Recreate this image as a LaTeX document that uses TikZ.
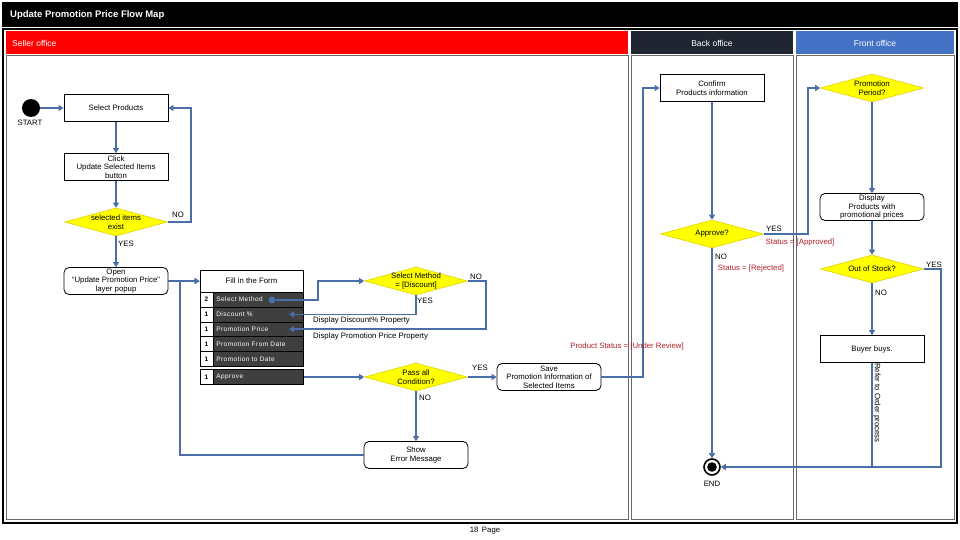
\documentclass[tikz,border=0pt]{standalone}
\usepackage{fontspec}
\setmainfont{Liberation Sans}
\newfontfamily\rowfont[LetterSpace=7]{Liberation Sans}
\usetikzlibrary{shapes.geometric,arrows.meta}
\definecolor{flowblue}{HTML}{4A6FA8}
\definecolor{laneline}{HTML}{6A6A6A}
\definecolor{hdrred}{HTML}{FF0000}
\definecolor{hdrdark}{HTML}{1F2631}
\definecolor{hdrblue}{HTML}{4472C4}
\definecolor{statred}{HTML}{B3202A}
\definecolor{rowdark}{HTML}{3F3F3F}
\definecolor{decfill}{HTML}{FFFF00}
\definecolor{decline}{HTML}{E0D000}
\tikzset{
  box/.style={draw=black, line width=0.8pt, minimum width=104pt, minimum height=27pt, align=center, inner sep=1pt, font=\fontsize{7.8}{8.6}\selectfont},
  rbox/.style={box, rounded corners=5pt},
  dec/.style={diamond, draw=decline, fill=decfill, line width=0.6pt, aspect=3.6, inner sep=-8pt, minimum width=103pt, minimum height=28pt, align=center, font=\fontsize{7.8}{8.6}\selectfont},
  flow/.style={draw=flowblue, line width=1.8pt, -{Triangle[length=5pt,width=6pt]}},
  plain/.style={draw=flowblue, line width=1.8pt},
  lbl/.style={inner sep=0pt, font=\fontsize{7.8}{8.6}\selectfont},
  stat/.style={lbl, text=statred},
  numcell/.style={draw=black, fill=white, line width=0.6pt, minimum width=13pt, minimum height=14.8pt, inner sep=0pt, font=\bfseries\fontsize{6.5}{7}\selectfont},
  rowcell/.style={draw=black, fill=rowdark, line width=0.6pt, text=white, anchor=west, text width=84pt, inner xsep=3pt, inner ysep=0pt, minimum height=14.8pt, align=left, font=\rowfont\fontsize{6.5}{7}\selectfont},
  hdr/.style={inner sep=0pt, text=white, font=\fontsize{8.5}{9}\selectfont},
}
\begin{document}
\begin{tikzpicture}[x=1pt,y=-1pt]
\useasboundingbox (0,0) rectangle (960,540);
\fill[white] (0,0) rectangle (960,540);
% title bar
\fill[black] (2,2) rectangle (958,27);
\node[hdr, anchor=west, font=\bfseries\fontsize{9.5}{10}\selectfont] (title) at (10,15) {Update Promotion Price Flow Map};
% frame
\draw[black, line width=1.2pt] (3,29) rectangle (957,523);
% headers
\fill[hdrred] (6,31) rectangle (628,54);
\fill[hdrdark] (631,31) rectangle (793,54);
\fill[hdrblue] (796,31) rectangle (954,54);
\node[hdr, anchor=west] (hseller) at (12,43) {Seller office};
\node[hdr] (hback) at (712,43) {Back office};
\node[hdr] (hfront) at (875,43) {Front office};
% lanes
\draw[laneline, line width=1pt] (6,56) rectangle (628,519);
\draw[laneline, line width=1pt] (631,56) rectangle (793,519);
\draw[laneline, line width=1pt] (796,56) rectangle (954,519);
\node[lbl] (page) at (485,531) {18\, Page};

% ---------- Seller office ----------
\node[circle, fill=black, minimum size=18pt, inner sep=0pt] (start) at (31,108) {};
\node[lbl] (startlbl) at (30,123) {START};
\node[box] (selprod) at (116,108) {Select Products};
\node[box] (click) at (116,167) {Click\\Update Selected Items\\button};
\node[dec] (exist) at (116,222) {selected items\\exist};
\node[rbox] (open) at (116,281) {Open\\``Update Promotion Price''\\layer popup};

\node[draw=black, fill=white, line width=0.8pt, minimum width=103pt, minimum height=22pt, inner sep=0pt, font=\fontsize{7.8}{8.6}\selectfont] (form) at (251.5,281) {Fill in the Form};
\node[numcell] (n1) at (206.5,299.6) {2};
\node[rowcell] (r1) at (213,299.6) {Select Method};
\node[numcell] (n2) at (206.5,314.4) {1};
\node[rowcell] (r2) at (213,314.4) {Discount \%};
\node[numcell] (n3) at (206.5,329.2) {1};
\node[rowcell] (r3) at (213,329.2) {Promotion Price};
\node[numcell] (n4) at (206.5,344) {1};
\node[rowcell] (r4) at (213,344) {Promotion From Date};
\node[numcell] (n5) at (206.5,358.8) {1};
\node[rowcell] (r5) at (213,358.8) {Promotion to Date};
\node[numcell] (n6) at (206.5,377) {1};
\node[rowcell] (r6) at (213,377) {Approve};
\node[circle, fill=flowblue, minimum size=7pt, inner sep=0pt] (dot) at (272,300) {};
\coordinate (dtgt) at (289,314.4);
\coordinate (ptgt) at (289,329.2);

\node[dec] (selm) at (416,281) {Select Method\\= [Discount]};
\node[dec] (pass) at (416,377) {Pass all\\Condition?};
\node[rbox] (save) at (549,377) {Save\\Promotion Information of\\Selected Items};
\node[rbox] (error) at (416,455) {Show\\Error Message};

% ---------- Back office ----------
\node[box] (confirm) at (712,88) {Confirm\\Products information};
\node[dec] (approve) at (712,234) {Approve?};
\node[circle, draw=black, fill=white, line width=1.6pt, minimum size=16pt, inner sep=0pt,
  path picture={\fill[black] (path picture bounding box.center) circle (4.8pt);}] (end) at (712,467) {};
\node[lbl] (endlbl) at (712,484) {END};

% ---------- Front office ----------
\node[dec] (period) at (872,88) {Promotion\\Period?};
\node[rbox] (display) at (872,207) {Display\\Products with\\promotional prices};
\node[dec] (oos) at (872,269) {Out of Stock?};
\node[box] (buyer) at (872,349) {Buyer buys.};

% ---------- connectors ----------
\draw[flow] (start) -- (selprod);
\draw[flow] (selprod) -- (click);
\draw[flow] (click) -- (exist);
\draw[flow] (exist.east) -- ++(23,0) |- (selprod.east);
\node[lbl] (noexist) at (178,215) {NO};
\draw[flow] (exist) -- (open);
\node[lbl] (yesexist) at (126,244) {YES};
\draw[flow] (open.east) -- (form.west);
\draw[flow] (error.west) -| (180,281) -- (form.west);

\draw[flow] (dot) -- (318,300) |- (selm.west);
\draw[flow] (selm.south) |- (dtgt);
\node[lbl] (yessel) at (425,301) {YES};
\node[lbl, anchor=west] (dispdisc) at (313,320) {Display Discount\% Property};
\draw[flow] (selm.east) -- ++(18,0) |- (ptgt);
\node[lbl] (nosel) at (476,277) {NO};
\node[lbl, anchor=west] (dispprice) at (313,336) {Display Promotion Price Property};

\draw[flow] (r6.east) -- (pass.west);
\draw[flow] (pass.east) -- (save.west);
\node[lbl] (yespass) at (480,368) {YES};
\draw[flow] (pass.south) -- (error.north);
\node[lbl] (nopass) at (425,398) {NO};

\draw[flow] (save.east) -- (643,377) |- (confirm.west);
\node[stat] (review) at (627,346) {Product Status = [Under Review]};

\draw[flow] (confirm.south) -- (approve.north);
\draw[flow] (approve.east) -- (808,234) |- (period.west);
\node[lbl] (yesapp) at (774,229) {YES};
\node[stat] (approved) at (800,242) {Status = [Approved]};
\draw[flow] (approve.south) -- (end.north);
\node[lbl] (noapp) at (721,257) {NO};
\node[stat] (rejected) at (751,268) {Status = [Rejected]};

\draw[flow] (period.south) -- (display.north);
\draw[flow] (display.south) -- (oos.north);
\draw[flow] (oos.east) -- (941,269) |- (end.east);
\node[lbl] (yesoos) at (934,265) {YES};
\draw[flow] (oos.south) -- (buyer.north);
\node[lbl] (nooos) at (881,293) {NO};
\draw[plain] (buyer.south) -- (buyer.south |- end);
\node[lbl, rotate=-90] (refer) at (877,403) {Refer to Order process};
\end{tikzpicture}
\end{document}
